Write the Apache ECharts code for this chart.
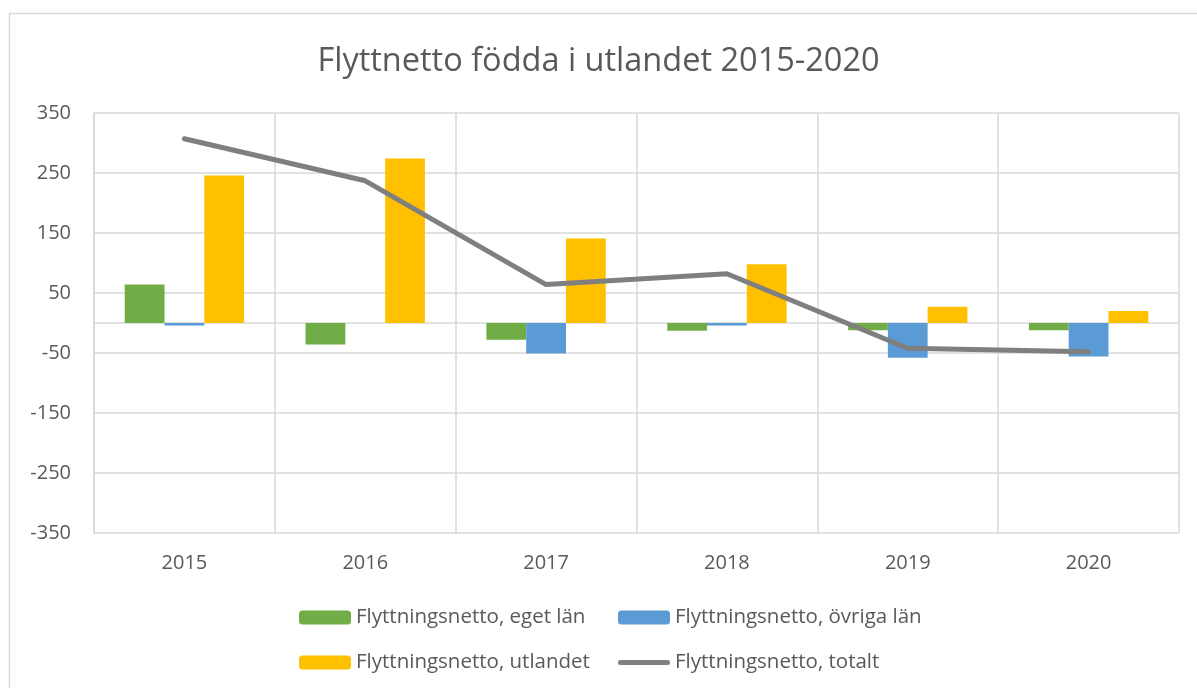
<!DOCTYPE html>
<html>
<head>
<meta charset="utf-8">
<script src="https://cdn.jsdelivr.net/npm/echarts@6/dist/echarts.min.js"></script>
<style>
  html, body { margin: 0; padding: 0; background: #fff; }
  #main { width: 1197px; height: 688px; }
</style>
</head>
<body>
<div id="main"></div>
<script>
// data
var years = ['2015', '2016', '2017', '2018', '2019', '2020']
var egetLan = [64, -36, -28, -13, -12, -12]
var ovrigaLan = [-4, 0, -51, -4, -58, -56]
var utlandet = [246, 274, 141, 98, 27, 20]
var totalt = [307, 237, 64, 82, -42, -48]

var textColor = '#595959'
var gridColor = '#d9d9d9'
var font = 'Open Sans'

// thick rounded line for the "totalt" legend entry (box 52x14)
var lineIcon = 'path://M0,0 M52,14 M2.5,4.5 L49.5,4.5 A2.5,2.5 0 0 1 49.5,9.5 L2.5,9.5 A2.5,2.5 0 0 1 2.5,4.5 Z'

var legendText = { fontSize: 20.5, color: textColor, fontFamily: font }

var myChart = echarts.init(document.getElementById('main'))
myChart.setOption({
  animation: false,
  textStyle: { fontFamily: font },
  title: {
    text: 'Flyttnetto födda i utlandet 2015-2020',
    left: 'center',
    top: 40,
    textStyle: { fontSize: 32.5, fontWeight: 'normal', color: textColor, fontFamily: font },
  },
  graphic: [
    {
      type: 'rect',
      shape: { x: 9.5, y: 13.5, width: 1200, height: 700 },
      style: { fill: 'none', stroke: gridColor, lineWidth: 1.5 },
      silent: true,
    },
  ],
  legend: [
    {
      orient: 'vertical',
      left: 294,
      top: 602,
      itemWidth: 52,
      itemHeight: 14,
      itemGap: 24,
      textStyle: legendText,
      data: ['Flyttningsnetto, eget län', 'Flyttningsnetto, utlandet'],
    },
    {
      orient: 'vertical',
      left: 613,
      top: 602,
      itemWidth: 52,
      itemHeight: 14,
      itemGap: 24,
      textStyle: legendText,
      data: [
        'Flyttningsnetto, övriga län',
        { name: 'Flyttningsnetto, totalt', icon: lineIcon },
      ],
    },
  ],
  grid: {
    left: 94,
    right: 18,
    top: 113,
    bottom: 155,
  },
  xAxis: {
    type: 'category',
    data: years,
    axisTick: { show: false },
    axisLine: { lineStyle: { color: gridColor, width: 1.5 } },
    axisLabel: { color: textColor, fontSize: 20, margin: 20 },
    splitLine: { show: true, lineStyle: { color: gridColor, width: 1.5 } },
  },
  yAxis: {
    type: 'value',
    min: -350,
    max: 350,
    interval: 100,
    axisLine: { show: true, lineStyle: { color: gridColor, width: 1.5 } },
    axisLabel: { color: textColor, fontSize: 20, margin: 23 },
    splitLine: { lineStyle: { color: gridColor, width: 1.5 } },
  },
  series: [
    {
      name: 'Flyttningsnetto, eget län',
      type: 'bar',
      data: egetLan,
      barGap: '0%',
      barCategoryGap: '34%',
      itemStyle: { color: '#70AD47' },
    },
    {
      name: 'Flyttningsnetto, övriga län',
      type: 'bar',
      data: ovrigaLan,
      itemStyle: { color: '#5B9BD5' },
    },
    {
      name: 'Flyttningsnetto, utlandet',
      type: 'bar',
      data: utlandet,
      itemStyle: { color: '#FFC000' },
    },
    {
      name: 'Flyttningsnetto, totalt',
      type: 'line',
      data: totalt,
      symbol: 'none',
      showSymbol: false,
      lineStyle: { color: '#7F7F7F', width: 5, cap: 'round', join: 'round' },
      itemStyle: { color: '#7F7F7F', borderWidth: 0 },
    },
  ],
})
</script>
</body>
</html>
